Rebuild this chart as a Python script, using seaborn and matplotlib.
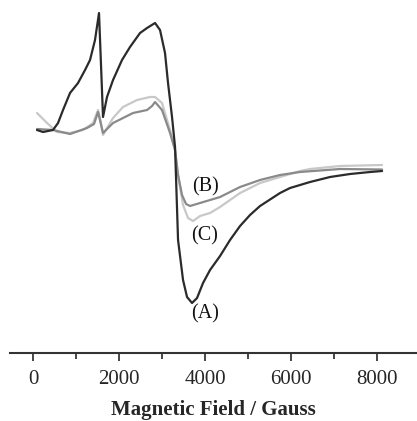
import pandas as pd
import matplotlib
matplotlib.use("Agg")
import matplotlib.pyplot as plt
import seaborn as sns

# EPR spectra, field in Gauss, intensity in arbitrary units
field_a = [93, 233, 465, 582, 698, 861, 1047, 1210, 1326, 1442, 1535, 1628, 1721,
           1861, 2070, 2256, 2489, 2652, 2838, 2954, 3070, 3140, 3233, 3303, 3373,
           3489, 3582, 3698, 3815, 3954, 4117, 4350, 4582, 4815, 5047, 5280, 5745,
           5978, 6443, 6908, 7373, 7839, 8118]
signal_a = [2.0, 1.8, 2.0, 2.7, 4.0, 5.7, 6.7, 8.0, 9.0, 11.0, 13.7, 3.3, 5.3,
            7.0, 9.0, 10.3, 11.7, 12.2, 12.7, 12.0, 9.7, 6.7, 3.3, 0.3, -9.0,
            -13.0, -14.7, -15.3, -14.8, -13.3, -12.0, -10.6, -9.0, -7.6, -6.5, -5.6, -4.3,
            -3.8, -3.2, -2.7, -2.4, -2.2, -2.1]

field_b = [93, 465, 861, 1256, 1419, 1512, 1558, 1628, 1861, 2326, 2652, 2768, 2838,
           3000, 3187, 3303, 3373, 3466, 3559, 3652, 3885, 4350, 4815, 5280, 5745,
           6210, 7141, 8118]
signal_b = [2.1, 2.0, 1.6, 2.2, 2.6, 3.8, 3.0, 1.7, 2.7, 3.7, 4.0, 4.4, 4.8,
            4.0, 1.7, 0.0, -2.5, -4.5, -5.4, -5.6, -5.3, -4.7, -3.7, -3.0, -2.5,
            -2.2, -1.9, -1.95]

field_c = [93, 326, 558, 861, 1163, 1396, 1512, 1558, 1628, 1861, 2093, 2419, 2721,
           2838, 3000, 3187, 3303, 3373, 3489, 3605, 3722, 3885, 4117, 4350, 4815,
           5280, 5745, 6210, 6443, 7141, 8118]
signal_c = [3.7, 2.7, 1.8, 1.7, 2.0, 2.7, 4.0, 3.2, 1.5, 3.2, 4.3, 5.0, 5.3,
            5.3, 4.7, 2.0, 0.0, -2.5, -5.5, -6.8, -7.1, -6.6, -6.3, -5.7, -4.3,
            -3.3, -2.7, -2.1, -1.9, -1.6, -1.5]

curve_labels = ["(A)", "(B)", "(C)"]
label_pos = [(4000, -16.4), (4000, -3.7), (3980, -8.6)]

sns.set_style("white")
plt.rcParams['font.family'] = ['Liberation Serif', 'DejaVu Serif']
plt.rcParams['font.size'] = 15

fig = plt.figure(figsize=(4.17, 4.21), dpi=100)
ax = fig.add_axes([10 / 417, 68 / 421, 407 / 417, 353 / 421])

sns.lineplot(x=field_c, y=signal_c, color="#c8c8c8", linewidth=1.6, ax=ax)
sns.lineplot(x=field_b, y=signal_b, color="#8a8a8a", linewidth=1.6, ax=ax)
sns.lineplot(x=field_a, y=signal_a, color="#2b2b2b", linewidth=1.6, ax=ax)

for lab, (lx, ly) in zip(curve_labels, label_pos):
    ax.text(lx, ly, lab, ha="center", va="center", fontsize=14.5, color="#111111")

ax.set_xlim(-535, 8930)
ax.set_ylim(-20.3, 15.0)
ax.set_xticks([0, 2000, 4000, 6000, 8000])
ax.set_xticks([1000, 3000, 5000, 7000], minor=True)
ax.set_yticks([])
ax.tick_params(axis="x", which="major", direction="out", length=6, width=1.2,
               pad=6, labelsize=15, bottom=True)
ax.tick_params(axis="x", which="minor", direction="out", length=4, width=1.2, bottom=True)
sns.despine(ax=ax, left=True, top=True, right=True)
ax.spines["bottom"].set_linewidth(1.5)
ax.spines["bottom"].set_color("#333333")
ax.set_xlabel("Magnetic Field / Gauss", fontweight="bold", fontsize=15, labelpad=8)
ax.set_ylabel("")

fig.savefig("out.png", dpi=100)
